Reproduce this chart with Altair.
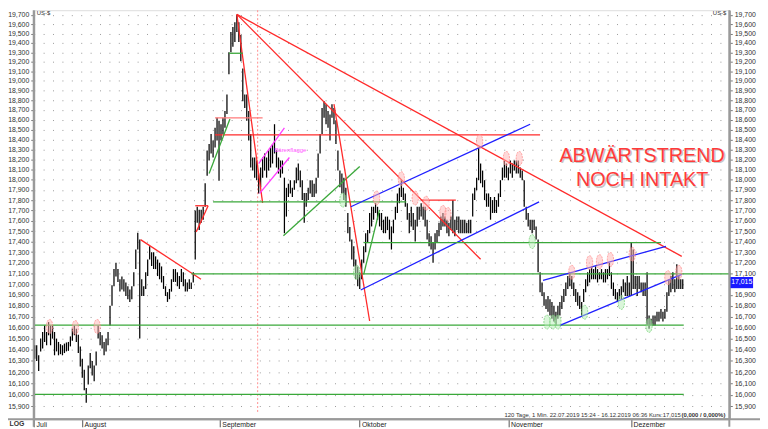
import altair as alt
import pandas as pd

# ---------------- price bars (high / low per bar, in thousandths of US-$) ----------------
HI_RAW = [
    16440,16440,16350,16500,16560,16620,16560,16650,16620,16620,
    16560,16500,16470,16450,16440,16455,16465,16470,16520,16590,
    16620,16590,16535,16430,16320,16220,16060,16260,16370,16300,
    16260,16385,16620,16560,16530,16470,16500,16560,16800,16990,
    17140,17200,17140,17045,17070,17045,17015,16980,16950,16980,
    17110,17325,17485,17420,17045,16980,17110,17230,17355,17300,
    17300,17260,17230,17200,17165,17075,16980,16925,16955,17045,
    17140,17140,17110,17075,17140,17110,17045,17015,17045,17015,
    17110,17700,17735,17705,17705,17735,17965,18290,18355,18455,
    18390,18520,18620,18590,18555,18620,18690,18860,19300,19515,
    19570,19620,19700,19620,19485,19130,18860,18860,18690,18455,
    18220,18220,18190,18060,18120,18220,18260,18220,18290,18320,
    18355,18555,18290,18220,18190,18190,18020,17920,17960,17995,
    17920,17995,18120,18160,18090,17995,17870,17870,17920,17995,
    17995,17960,18020,18260,18455,18720,18790,18760,18690,18655,
    18760,18720,18590,18290,18090,18060,18020,17920,17675,17540,
    17420,17355,17230,17165,17110,17230,17355,17480,17510,17675,
    17735,17735,17770,17735,17675,17675,17610,17640,17640,17610,
    17545,17610,17735,17865,17920,17995,17920,17865,17770,17675,
    17735,17675,17610,17735,17735,17770,17735,17735,17610,17480,
    17450,17390,17480,17510,17580,17640,17675,17640,17610,17580,
    17640,17800,17610,17640,17640,17610,17610,17610,17580,17610,
    17610,17865,17920,18020,18320,18160,18090,17995,17865,17865,
    17830,17800,17830,17800,17865,17995,18120,18190,18160,18120,
    18190,18160,18190,18190,18190,18120,18090,17995,17735,17675,
    17610,17610,17610,17545,17420,17110,17015,16925,16860,16890,
    16860,16835,16800,16745,16800,16835,16890,16955,17015,17075,
    17110,17075,17015,16955,16925,16890,16835,16955,17045,17110,
    17140,17165,17140,17165,17140,17110,17140,17110,17140,17140,
    17200,17110,17015,16955,16925,16955,16980,17045,17015,17075,
    17015,17390,17325,17075,17075,17075,17015,17015,17015,17110,
    16710,16680,16710,16710,16745,16745,16770,16745,16770,16925,
    17045,17075,17110,17045,17185,17075,17045,17045,
]
LO_RAW = [
    16320,16300,16210,16385,16410,16470,16440,16530,16440,16500,
    16350,16385,16350,16360,16350,16370,16385,16390,16430,16480,
    16530,16470,16370,16250,16150,16040,15930,16090,16235,16170,
    16120,16260,16500,16440,16410,16350,16385,16440,16620,16800,
    16980,17070,17020,16930,16950,16930,16890,16860,16835,16860,
    16980,17140,17325,16500,16890,16890,16955,17075,17230,17170,
    17140,17140,17075,17045,17015,16955,16890,16835,16860,16930,
    17020,17020,16980,16955,17020,16980,16930,16930,16955,16955,
    17015,17230,17580,17510,17580,17610,17735,18040,18190,18260,
    18220,18320,18390,17990,18390,18455,18520,18660,19070,19300,
    19360,19410,19515,19410,19205,18790,18720,18590,18390,18120,
    18090,18020,17995,17865,17925,18020,18090,18020,18090,18120,
    18160,18260,18120,18060,18020,18060,17480,17640,17830,17865,
    17830,17900,17965,17995,17925,17800,17580,17735,17800,17865,
    17830,17830,17865,18020,18260,18455,18620,18555,18520,18390,
    18620,18555,18355,18090,17925,17865,17800,17735,17480,17400,
    17230,17165,17045,16980,16955,17045,17200,17300,17390,17480,
    17545,17610,17675,17610,17545,17510,17480,17480,17510,17420,
    17325,17480,17610,17675,17770,17830,17800,17735,17610,17480,
    17545,17510,17400,17545,17610,17640,17610,17545,17420,17355,
    17325,17200,17325,17390,17450,17510,17545,17545,17480,17450,
    17510,17480,17450,17510,17480,17480,17480,17480,17480,17480,
    17480,17640,17800,17895,17995,17965,17925,17800,17735,17735,
    17610,17675,17675,17675,17735,17830,17995,18020,18020,17995,
    18060,18020,18090,18060,18060,18020,17995,17735,17610,17545,
    17510,17480,17510,17420,17110,16925,16890,16800,16770,16745,
    16710,16680,16655,16620,16680,16710,16770,16835,16890,16955,
    16980,16955,16890,16835,16800,16770,16710,16835,16925,16980,
    17015,17045,17045,17045,17015,17045,17045,17015,17015,17045,
    17075,16955,16890,16860,16835,16860,16860,16925,16890,16890,
    16890,16890,16955,16955,16890,16955,16925,16890,16890,16620,
    16590,16620,16620,16620,16655,16655,16680,16655,16680,16745,
    16890,16925,16955,16925,16955,16955,16955,16955,
]
hi = [v / 1000 for v in HI_RAW]
lo = [v / 1000 for v in LO_RAW]
bars = pd.DataFrame({"i": list(range(len(hi))), "hi": hi, "lo": lo})

# ---------------- axis labels ----------------
MONTHS = ["Juli", "August", "September", "Oktober", "November", "Dezember"]
MONTH_POS = [-0.3, 23.9, 93.4, 163.9, 239.1, 300.9]
Y_TICKS = [15.9, 16.0, 16.1, 16.2, 16.3, 16.4, 16.5, 16.6, 16.7, 16.8, 16.9,
           17.0, 17.1, 17.2, 17.3, 17.4, 17.5, 17.6, 17.7, 17.8, 17.9,
           18.0, 18.1, 18.2, 18.3, 18.4, 18.5, 18.6, 18.7, 18.8, 18.9,
           19.0, 19.1, 19.2, 19.3, 19.4, 19.5, 19.6, 19.7]
# on the right, the 17,000 label sits under the last-price box
Y_TICKS_RIGHT = [v for v in Y_TICKS if v != 17.0]

# ---------------- drawn trend / support lines ----------------
SEG_COLOR = ["red", "green", "green", "green", "red", "red", "red", "red", "red",
             "lightred", "red", "green", "green", "magenta", "magenta", "green",
             "red", "green", "green", "red", "blue", "blue", "green", "blue", "blue"]
SEG_I0 = [53.4, 0, 0, 79, 81, 81.5, 102, 102, 102, 91, 91, 98, 88, 113, 113.5, 90,
          195, 125.5, 166, 151, 159.5, 164.5, 166, 256.5, 265]
SEG_P0 = [17.419, 16.622, 16.004, 17.096, 17.745, 17.493, 19.705, 19.705, 19.705,
          18.620, 18.448, 19.290, 18.062, 18.160, 17.866, 17.782, 17.800, 17.456,
          17.090, 18.760, 17.735, 16.945, 17.390, 17.035, 16.620]
SEG_I1 = [83.9, 327.5, 327.5, 351, 87.5, 87.5, 326.5, 225, 115, 115, 255, 105, 98.5,
          126, 128.5, 187.5, 212.5, 164, 174, 169, 250, 254.5, 316, 318.5, 326.5]
SEG_P1 = [17.045, 16.622, 16.004, 17.096, 17.745, 17.745, 17.260, 17.232, 17.773,
          18.620, 18.448, 19.290, 18.608, 18.517, 18.220, 17.782, 17.800, 18.130,
          17.705, 16.660, 18.555, 17.782, 17.390, 17.355, 17.090]
PALETTE = {"red": "#ff2a2a", "lightred": "#ff7a7a", "green": "#3aa83a",
           "blue": "#1f1fff", "magenta": "#ff3cff"}
seg_rows = []
for k in range(len(SEG_COLOR)):
    c = PALETTE[SEG_COLOR[k]]
    seg_rows.append({"seg": k, "i": SEG_I0[k], "p": SEG_P0[k], "c": c})
    seg_rows.append({"seg": k, "i": SEG_I1[k], "p": SEG_P1[k], "c": c})
segs = pd.DataFrame(seg_rows)

# ---------------- highlighted turning points ----------------
PINK_I = [7.5, 20.5, 31.5, 172.5, 185, 192, 197.5, 206, 208.5, 224.5, 238, 244.5,
          271, 280, 285, 290.5, 301.5, 319.5, 325]
PINK_P = [16.61, 16.60, 16.61, 17.82, 18.01, 17.82, 17.77, 17.68, 17.66, 18.38,
          18.21, 18.21, 17.11, 17.20, 17.21, 17.23, 17.28, 17.06, 17.11]
GREEN_I = [155.5, 162.5, 251, 258.5, 261.5, 264, 277.5, 296, 310]
GREEN_P = [17.80, 17.11, 17.40, 16.65, 16.65, 16.65, 16.74, 16.83, 16.62]
pink = pd.DataFrame({"i": PINK_I, "p": PINK_P})
greens = pd.DataFrame({"i": GREEN_I, "p": GREEN_P})

LAST_PRICE = 17.015
MARKER_I = 112.5

FONT = "Liberation Sans"
W, H = 703, 413
xsc = alt.Scale(domain=[-0.5, 350.5], nice=False, zero=False)


def ysc():
    return alt.Scale(type="log", domain=[15.7907, 19.750], nice=False, zero=False)


month_expr = " : ".join(
    [f"datum.value < {MONTH_POS[k + 1] - 1} ? '{MONTHS[k]}'" for k in range(len(MONTHS) - 1)]
) + f" : '{MONTHS[-1]}'"
num_expr = "replace(format(datum.value, '.3f'), '.', ',')"

x_axis = alt.Axis(values=MONTH_POS, labelExpr=month_expr, orient="bottom", title=None,
                  grid=False, domainColor="#9a9a9a", domainWidth=2, tickColor="#555",
                  tickSize=8, labelAlign="left", labelBaseline="top", labelPadding=-6,
                  labelOffset=2, labelFontSize=7, labelFont=FONT, labelColor="#222",
                  labelFlush=False, labelOverlap=False)


def X():
    return alt.X("i:Q", scale=xsc, axis=x_axis)


left_axis = alt.Axis(values=Y_TICKS, labelExpr=num_expr, orient="left", title=None,
                     grid=True, gridDash=[1, 8.5], gridColor="#9a9a9a", gridWidth=1,
                     domainColor="#9a9a9a", domainWidth=2, tickColor="#777", tickSize=3,
                     labelFontSize=7, labelFont=FONT, labelColor="#333", labelPadding=2,
                     labelOverlap=False, labelFlush=False)
right_axis = alt.Axis(values=Y_TICKS_RIGHT, labelExpr=num_expr, orient="right", title=None,
                      grid=False, domainColor="#9a9a9a", domainWidth=2, tickColor="#777",
                      tickSize=3, labelFontSize=7, labelFont=FONT, labelColor="#333",
                      labelPadding=2, labelOverlap=False, labelFlush=False)

price = alt.Chart(bars).mark_rule(color="black", strokeWidth=1.25).encode(
    x=X(),
    y=alt.Y("lo:Q", scale=ysc(), axis=left_axis),
    y2="hi:Q",
)
right_ax = alt.Chart(bars).mark_rule(opacity=0).encode(
    x=X(),
    y=alt.Y("lo:Q", scale=ysc(), axis=right_axis),
    y2="hi:Q",
)

marker = alt.Chart(pd.DataFrame({"i": [MARKER_I]})).mark_rule(
    color="#ff8f8f", strokeDash=[2, 2], strokeWidth=1
).encode(x=X(), y=alt.value(0), y2=alt.value(407))

lines = alt.Chart(segs).mark_line(strokeWidth=1.3).encode(
    x=X(),
    y=alt.Y("p:Q", scale=ysc(), axis=None),
    detail="seg:N",
    color=alt.Color("c:N", scale=None),
)

ELLIPSE = "M0,-1 C0.6,-1 0.6,1 0,1 C-0.6,1 -0.6,-1 0,-1 Z"
pink_pts = alt.Chart(pink).mark_point(
    shape=ELLIPSE, size=200, filled=True, fill="#ffb3b3", fillOpacity=0.5,
    stroke="#ff8080", strokeWidth=0.8, strokeDash=[2, 1], strokeOpacity=0.8
).encode(x=X(), y=alt.Y("p:Q", scale=ysc(), axis=None))
green_pts = alt.Chart(greens).mark_point(
    shape=ELLIPSE, size=200, filled=True, fill="#b6eeb6", fillOpacity=0.5,
    stroke="#66cc66", strokeWidth=0.8, strokeDash=[2, 1], strokeOpacity=0.8
).encode(x=X(), y=alt.Y("p:Q", scale=ysc(), axis=None))

flag_text = alt.Chart(pd.DataFrame({"i": [129], "p": [18.29], "t": ["Bärenflagge"]})).mark_text(
    font=FONT, fontSize=6, color="#ff55ff", align="center", baseline="middle"
).encode(x=X(), y=alt.Y("p:Q", scale=ysc(), axis=None), text="t:N")

TITLE_LINES = ["ABWÄRTSTREND", "NOCH INTAKT"]
title_df = pd.DataFrame({"i": [306.5, 306.5], "p": [18.235, 17.995], "t": TITLE_LINES})
title_shadow = alt.Chart(title_df).mark_text(
    font=FONT, fontSize=20, color="#9a9a9a", opacity=0.55, dx=1.5, dy=1.5, baseline="middle"
).encode(x=X(), y=alt.Y("p:Q", scale=ysc(), axis=None), text="t:N")
title_text = alt.Chart(title_df).mark_text(
    font=FONT, fontSize=20, color="#ff3a3a", baseline="middle"
).encode(x=X(), y=alt.Y("p:Q", scale=ysc(), axis=None), text="t:N")

last_box = alt.Chart(pd.DataFrame({"a": [17.066], "b": [16.962]})).mark_rect(color="#1a1aff").encode(
    x=alt.value(704), x2=alt.value(727),
    y=alt.Y("a:Q", scale=ysc(), axis=None), y2="b:Q",
)
last_txt = alt.Chart(pd.DataFrame({"p": [LAST_PRICE], "t": ["17,015"]})).mark_text(
    font=FONT, fontSize=7, color="white", align="center", baseline="middle"
).encode(x=alt.value(715.5), y=alt.Y("p:Q", scale=ysc(), axis=None), text="t:N")

frame = alt.Chart(pd.DataFrame({"k": [0]})).mark_rule(color="#9a9a9a", strokeWidth=2).encode(
    x=alt.value(-26), x2=alt.value(734), y=alt.value(413.5)
)
frame_l = alt.Chart(pd.DataFrame({"k": [0]})).mark_rule(color="#9a9a9a", strokeWidth=2).encode(
    x=alt.value(0), y=alt.value(0), y2=alt.value(421)
)
frame_r = alt.Chart(pd.DataFrame({"k": [0]})).mark_rule(color="#9a9a9a", strokeWidth=2).encode(
    x=alt.value(703), y=alt.value(0), y2=alt.value(421)
)

usd_l = alt.Chart(pd.DataFrame({"t": ["US-$"]})).mark_text(
    font=FONT, fontSize=6, color="#333", align="left", baseline="top"
).encode(x=alt.value(3), y=alt.value(0), text="t:N")
usd_r = alt.Chart(pd.DataFrame({"t": ["US-$"]})).mark_text(
    font=FONT, fontSize=6, color="#333", align="right", baseline="top"
).encode(x=alt.value(700), y=alt.value(0), text="t:N")
log_txt = alt.Chart(pd.DataFrame({"t": ["LOG"]})).mark_text(
    font=FONT, fontSize=7, color="#333", align="center", baseline="middle", fontWeight="bold"
).encode(x=alt.value(-17), y=alt.value(418), text="t:N")

INFO = "120 Tage, 1 Min. 22.07.2019 15:24 - 16.12.2019 06:36 Kurs:17,015"
INFO_BOLD = "(0,000 / 0,000%)"
info_txt = alt.Chart(pd.DataFrame({"t": [INFO]})).mark_text(
    font=FONT, fontSize=6, color="#333", align="right", baseline="middle"
).encode(x=alt.value(654), y=alt.value(409), text="t:N")
info_bold = alt.Chart(pd.DataFrame({"t": [INFO_BOLD]})).mark_text(
    font=FONT, fontSize=6, color="#333", align="right", baseline="middle", fontWeight="bold"
).encode(x=alt.value(699), y=alt.value(409), text="t:N")

chart = alt.layer(
    price, right_ax, marker, lines, pink_pts, green_pts, flag_text,
    title_shadow, title_text, last_box, last_txt, frame, frame_l, frame_r,
    usd_l, usd_r, log_txt, info_txt, info_bold,
).resolve_scale(y="independent").properties(
    width=W, height=H,
    autosize=alt.AutoSizeParams(type="none"),
    padding={"left": 26, "top": 0, "right": 31, "bottom": 8},
).configure_view(stroke=None).configure(background="white")

chart.save("out.html", embed_options={"renderer": "svg", "actions": False})
